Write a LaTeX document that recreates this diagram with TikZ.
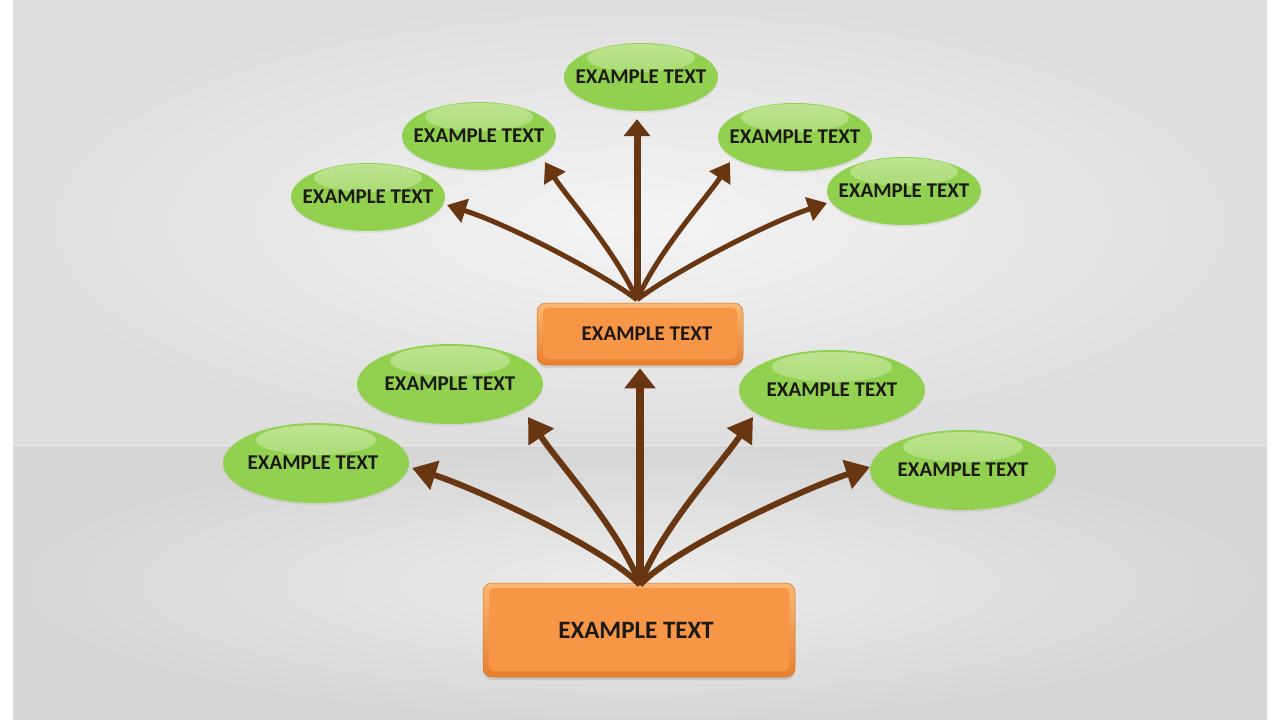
\documentclass[tikz,border=0pt]{standalone}
\usepackage{fontspec}
\setmainfont{Carlito}
\usetikzlibrary{shapes.geometric,arrows.meta,calc,shadows}
\definecolor{ellG}{RGB}{146,208,80}
\definecolor{ellGL}{RGB}{190,228,146}
\definecolor{boxO}{RGB}{247,150,70}
\definecolor{boxOD}{RGB}{230,128,46}
\definecolor{boxOL}{RGB}{252,184,116}
\definecolor{arrB}{RGB}{104,54,16}
\definecolor{txtD}{RGB}{28,24,18}
\definecolor{bgIn}{RGB}{244,244,244}
\definecolor{bgOut}{RGB}{222,222,222}
\definecolor{flIn}{RGB}{236,236,236}
\definecolor{flOut}{RGB}{214,214,214}
\newcommand{\ztext}[1]{\makebox[0pt][c]{#1}}
\begin{document}
\begin{tikzpicture}[x=1pt,y=-1pt,
  ellS/.style={ellipse, minimum width=154pt, minimum height=68pt, inner sep=0pt,
    fill=ellG, text=txtD, font=\bfseries\fontsize{21}{21}\selectfont,
    drop shadow={shadow xshift=0pt, shadow yshift=-2pt, opacity=0.12},
    path picture={\shade[top color=ellGL, bottom color=ellG]
      ([yshift=-15pt]path picture bounding box.north) ellipse [x radius=54pt, y radius=14pt];}},
  ellL/.style={ellipse, minimum width=186pt, minimum height=80pt, inner sep=0pt,
    fill=ellG, text=txtD, font=\bfseries\fontsize{21}{21}\selectfont,
    drop shadow={shadow xshift=0pt, shadow yshift=-2pt, opacity=0.12},
    path picture={\shade[top color=ellGL, bottom color=ellG]
      ([yshift=-17pt]path picture bounding box.north) ellipse [x radius=60pt, y radius=15pt];}},
  obox/.style={rectangle, rounded corners=9pt, inner sep=0pt, text=txtD,
    top color=boxOL, bottom color=boxOD, draw=boxOD!90!black, line width=0.5pt,
    drop shadow={shadow xshift=0pt, shadow yshift=-3pt, opacity=0.22},
    path picture={\fill[boxO, rounded corners=5pt]
      ([xshift=6pt,yshift=-5pt]path picture bounding box.north west) rectangle
      ([xshift=-6pt,yshift=6pt]path picture bounding box.south east);}},
  arrU/.style={draw=arrB, line width=5pt, -{Triangle[length=19pt,width=24pt]}},
  arrUS/.style={draw=arrB, line width=7pt, -{Triangle[length=17pt,width=26pt]}},
  arrL/.style={draw=arrB, line width=6pt, -{Triangle[length=24pt,width=29pt]}},
  arrLS/.style={draw=arrB, line width=8pt, -{Triangle[length=20pt,width=30pt]}}
]
\useasboundingbox (0,0) rectangle (1280,720);
\fill[white] (0,0) rectangle (1280,720);
\shade[inner color=bgIn, outer color=bgOut] (13,0) rectangle (1267,446);
\shade[inner color=flIn, outer color=flOut] (13,446) rectangle (1267,720);
\draw[white!40!bgOut, line width=1.2pt] (13,445.5) -- (1267,445.5);

% boxes
\node[obox, minimum width=312pt, minimum height=94pt, font=\bfseries\fontsize{25}{25}\selectfont] (b) at (639,630) {\ztext{\hspace{-6pt}EXAMPLE TEXT}};
\node[obox, minimum width=206pt, minimum height=62pt, font=\bfseries\fontsize{21}{21}\selectfont] (m) at (640,334) {\ztext{\hspace{14pt}EXAMPLE TEXT}};

% upper ellipses
\node[ellS] (e1) at (368,197) {\ztext{EXAMPLE TEXT}};
\node[ellS] (e2) at (479,136) {\ztext{EXAMPLE TEXT}};
\node[ellS] (e3) at (641,77) {\ztext{EXAMPLE TEXT}};
\node[ellS] (e4) at (795,137) {\ztext{EXAMPLE TEXT}};
\node[ellS] (e5) at (904,191) {\ztext{EXAMPLE TEXT}};
% lower ellipses
\node[ellL] (l1) at (316,463) {\ztext{\hspace{-6pt}EXAMPLE TEXT}};
\node[ellL] (l2) at (450,384) {\ztext{EXAMPLE TEXT}};
\node[ellL] (l3) at (832,390) {\ztext{EXAMPLE TEXT}};
\node[ellL] (l4) at (963,470) {\ztext{EXAMPLE TEXT}};

% connector ends
\coordinate (o1) at ([shift={(-3,-3)}]m.north);
\coordinate (o2) at ([shift={(1,2)}]b.north);
\coordinate (t1) at ([shift={(79,8)}]e1.center);
\coordinate (t2) at ([shift={(66,26)}]e2.center);
\coordinate (t3) at ([shift={(-4,8)}]e3.south);
\coordinate (t4) at ([shift={(-65,25)}]e4.center);
\coordinate (t5) at ([shift={(-77,12)}]e5.center);
\coordinate (s1) at ([shift={(96,5)}]l1.center);
\coordinate (s2) at ([shift={(78,33)}]l2.center);
\coordinate (s3) at ([shift={(0,3)}]m.south);
\coordinate (s4) at ([shift={(-79,27)}]l3.center);
\coordinate (s5) at ([shift={(-93,-3)}]l4.center);

% upper arrows
\draw[arrU] (o1) .. controls (605,275) and (510,225) .. (t1);
\draw[arrU] (o1) .. controls (615,250) and (565,195) .. (t2);
\draw[arrUS] (o1) -- (t3);
\draw[arrU] (o1) .. controls (659,250) and (709,195) .. (t4);
\draw[arrU] (o1) .. controls (669,275) and (762,225) .. (t5);
% lower arrows
\draw[arrL] (o2) .. controls (605,548) and (475,488) .. (s1);
\draw[arrL] (o2) .. controls (620,530) and (560,465) .. (s2);
\draw[arrLS] (o2) -- (s3);
\draw[arrL] (o2) .. controls (660,530) and (720,465) .. (s4);
\draw[arrL] (o2) .. controls (675,548) and (805,488) .. (s5);
\end{tikzpicture}
\end{document}
